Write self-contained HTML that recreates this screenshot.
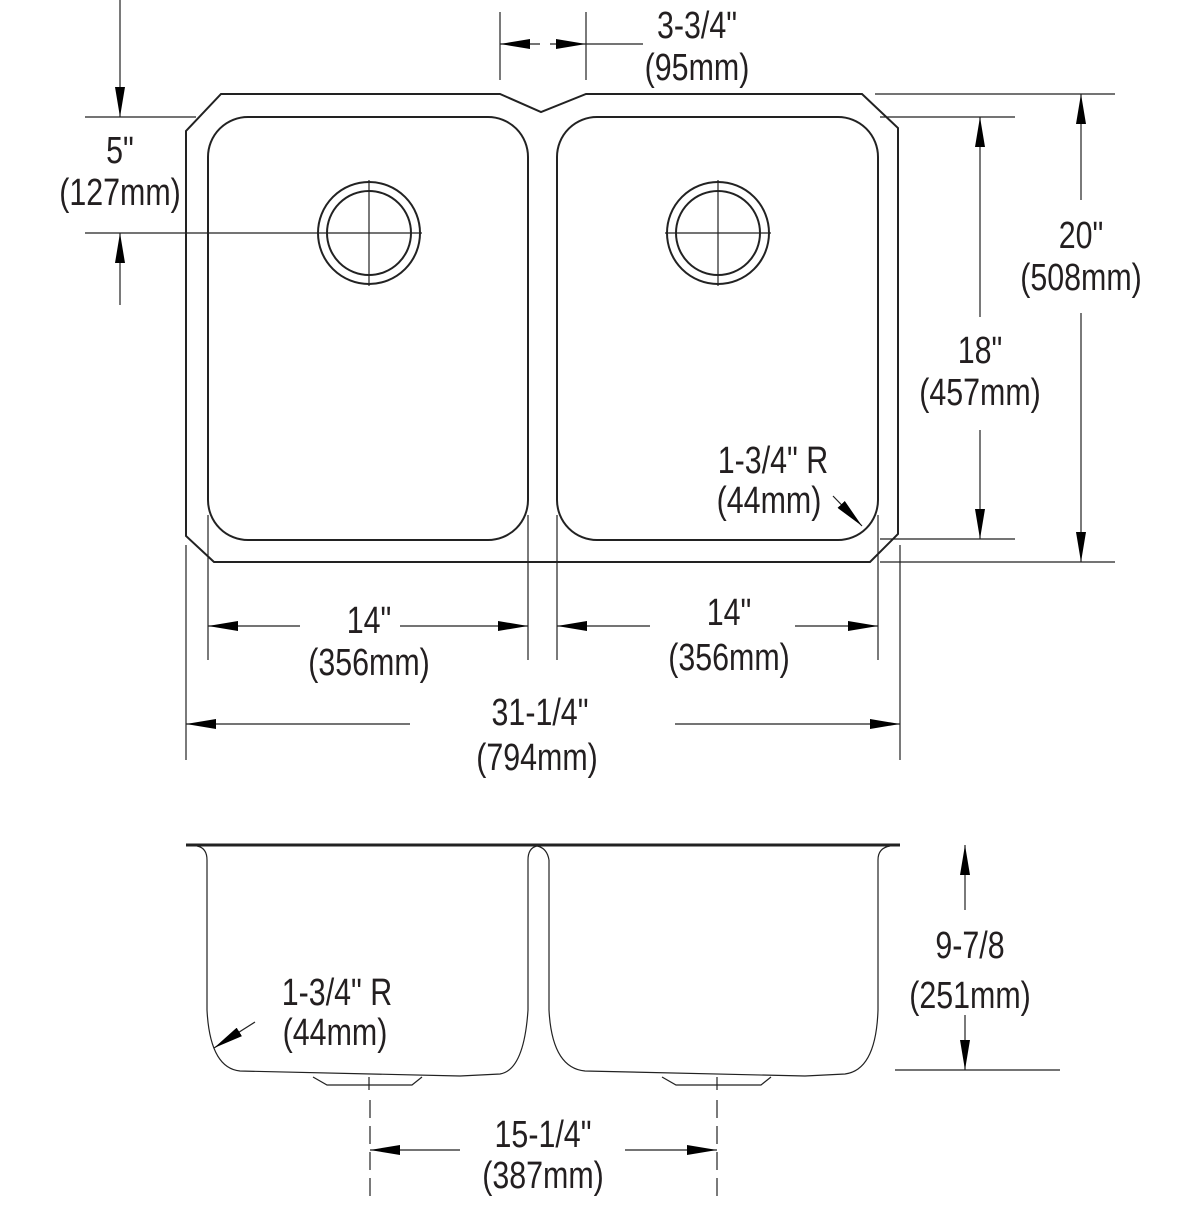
<!DOCTYPE html>
<html><head><meta charset="utf-8"><style>
html,body{margin:0;padding:0;background:#fff}
svg text{font-family:"Liberation Sans",sans-serif;font-size:38px;fill:#231f20;text-anchor:middle}
</style></head><body>
<svg width="1200" height="1200" viewBox="0 0 1200 1200" xmlns="http://www.w3.org/2000/svg">
<defs>
<marker id="a" viewBox="0 0 30 10" refX="30" refY="5" markerWidth="30" markerHeight="10" markerUnits="userSpaceOnUse" orient="auto"><path d="M0,0 L30,5 L0,10 Z" fill="#000"/></marker>
</defs>
<g fill="none" stroke="#222" stroke-width="2">
<path d="M221,94 L500,94 L541,112 L586,94 L862,94 L898,128 L898,534 L870,562 L214,562 L186,536 L186,131 Z"/>
<path d="M248,117 L488,117 A40,40 0 0 1 528,157 L528,500 A40,40 0 0 1 488,540 L248,540 A40,40 0 0 1 208,500 L208,157 A40,40 0 0 1 248,117 Z"/>
<path d="M597,117 L838,117 A40,40 0 0 1 878,157 L878,500 A40,40 0 0 1 838,540 L597,540 A40,40 0 0 1 557,500 L557,157 A40,40 0 0 1 597,117 Z"/>
<circle cx="369" cy="233" r="51"/><circle cx="369" cy="233" r="42"/>
<circle cx="718" cy="233" r="51"/><circle cx="718" cy="233" r="42"/>
</g>
<g fill="none" stroke="#222" stroke-width="1.2">
<line x1="369" y1="180" x2="369" y2="286"/><line x1="316" y1="233" x2="422" y2="233"/>
<line x1="718" y1="180" x2="718" y2="286"/><line x1="665" y1="233" x2="771" y2="233"/>
<line x1="85" y1="117" x2="196" y2="117"/>
<line x1="85" y1="233" x2="316" y2="233"/>
<line x1="120" y1="0" x2="120" y2="117" marker-end="url(#a)"/>
<line x1="120" y1="305" x2="120" y2="233" marker-end="url(#a)"/>
<line x1="500" y1="12" x2="500" y2="80"/><line x1="586" y1="12" x2="586" y2="80"/>
<line x1="540" y1="44" x2="500" y2="44" marker-end="url(#a)"/>
<line x1="550" y1="44" x2="586" y2="44" marker-end="url(#a)"/>
<line x1="586" y1="44" x2="643" y2="44"/>
<line x1="875" y1="94" x2="1115" y2="94"/>
<line x1="880" y1="117" x2="1015" y2="117"/>
<line x1="880" y1="539" x2="1015" y2="539"/>
<line x1="880" y1="562" x2="1115" y2="562"/>
<line x1="980" y1="317" x2="980" y2="117" marker-end="url(#a)"/>
<line x1="980" y1="430" x2="980" y2="539" marker-end="url(#a)"/>
<line x1="1081" y1="200" x2="1081" y2="94" marker-end="url(#a)"/>
<line x1="1081" y1="313" x2="1081" y2="562" marker-end="url(#a)"/>
<line x1="833" y1="496" x2="862" y2="526" marker-end="url(#a)"/>
<line x1="208" y1="515" x2="208" y2="660"/><line x1="528" y1="515" x2="528" y2="660"/>
<line x1="557" y1="515" x2="557" y2="660"/><line x1="878" y1="515" x2="878" y2="660"/>
<line x1="186" y1="545" x2="186" y2="760"/><line x1="900" y1="545" x2="900" y2="760"/>
<line x1="300" y1="626" x2="208" y2="626" marker-end="url(#a)"/>
<line x1="400" y1="626" x2="528" y2="626" marker-end="url(#a)"/>
<line x1="650" y1="626" x2="557" y2="626" marker-end="url(#a)"/>
<line x1="795" y1="626" x2="878" y2="626" marker-end="url(#a)"/>
<line x1="410" y1="724" x2="186" y2="724" marker-end="url(#a)"/>
<line x1="675" y1="724" x2="900" y2="724" marker-end="url(#a)"/>
<path d="M197,846 Q207,848 207,860 L207,1010 Q210,1068 240,1071 L460,1076"/>
<path d="M460,1076 L500,1074 Q524,1070 528,1010 L528,860 Q528,848 537,846 Q547,848 549,860"/>
<path d="M549,860 L549,1010 Q552,1068 585,1071 L805,1076 L845,1074 Q876,1070 878,1010 L878,860 Q878,848 890,846"/>
<path d="M313,1077 L327,1085 L412,1085 L422,1077"/>
<path d="M662,1077 L676,1085 L761,1085 L771,1077"/>
<line x1="369" y1="1077" x2="369" y2="1090"/><line x1="717" y1="1077" x2="717" y2="1090"/>
<line x1="255" y1="1022" x2="214" y2="1048" marker-end="url(#a)"/>
<line x1="895" y1="1070" x2="1060" y2="1070"/>
<line x1="965" y1="910" x2="965" y2="845" marker-end="url(#a)"/>
<line x1="965" y1="1015" x2="965" y2="1070" marker-end="url(#a)"/>
<line x1="370" y1="1100" x2="370" y2="1200" stroke-dasharray="18,8"/>
<line x1="717" y1="1100" x2="717" y2="1200" stroke-dasharray="18,8"/>
<line x1="460" y1="1150" x2="370" y2="1150" marker-end="url(#a)"/>
<line x1="625" y1="1150" x2="717" y2="1150" marker-end="url(#a)"/>
</g>
<line x1="186" y1="845" x2="900" y2="845" stroke="#222" stroke-width="3"/>
<text transform="translate(697 38) scale(.8 1)">3-3/4"</text><text transform="translate(697 80) scale(.8 1)">(95mm)</text>
<text transform="translate(120 163) scale(.8 1)">5"</text><text transform="translate(120 205) scale(.8 1)">(127mm)</text>
<text transform="translate(1081 248) scale(.8 1)">20"</text><text transform="translate(1081 290) scale(.8 1)">(508mm)</text>
<text transform="translate(980 363) scale(.8 1)">18"</text><text transform="translate(980 405) scale(.8 1)">(457mm)</text>
<text transform="translate(773 473) scale(.8 1)">1-3/4" R</text><text transform="translate(769 513) scale(.8 1)">(44mm)</text>
<text transform="translate(369 633) scale(.8 1)">14"</text><text transform="translate(369 675) scale(.8 1)">(356mm)</text>
<text transform="translate(729 625) scale(.8 1)">14"</text><text transform="translate(729 670) scale(.8 1)">(356mm)</text>
<text transform="translate(540 725) scale(.8 1)">31-1/4"</text><text transform="translate(537 770) scale(.8 1)">(794mm)</text>
<text transform="translate(970 958) scale(.8 1)">9-7/8</text><text transform="translate(970 1008) scale(.8 1)">(251mm)</text>
<text transform="translate(337 1005) scale(.8 1)">1-3/4" R</text><text transform="translate(335 1045) scale(.8 1)">(44mm)</text>
<text transform="translate(543 1147) scale(.8 1)">15-1/4"</text><text transform="translate(543 1188) scale(.8 1)">(387mm)</text>
</svg>
</body></html>
